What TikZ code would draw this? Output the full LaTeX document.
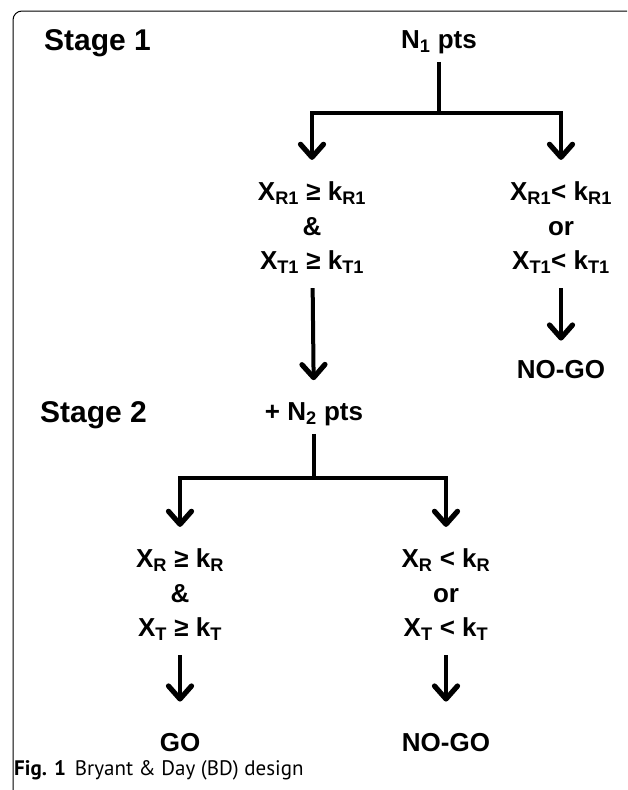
\documentclass[tikz,border=0pt]{standalone}
\usepackage{fontspec}
\setmainfont{Liberation Sans}
\newfontfamily\capfont{PT Sans}
\usetikzlibrary{arrows.meta}
\tikzset{
  txt/.style={font=\fontsize{26}{34.5}\selectfont\bfseries,align=center,inner sep=0pt},
  stage/.style={font=\fontsize{30}{36}\selectfont\bfseries,inner sep=0pt},
  bar/.style={line width=4pt},
  arr/.style={line width=4pt,-{Straight Barb[length=13pt,width=23pt,line width=0pt 1.3,round]}},
  frame/.style={line width=1pt,rounded corners=9pt},
}
\begin{document}
\begin{tikzpicture}[x=1pt,y=-1pt]
        \useasboundingbox(0,0)rectangle(627,790);
        \draw[frame](627,11)--(13,11)--(13,792);

        \node[stage,anchor=west](stage1)at(44,43){Stage 1};
        \node[txt](n1)at(439,42){N\textsubscript{1} pts};
        \coordinate(fork1)at(439,113);
        \node[txt](pass1)at(312,228){X\textsubscript{R1} ≥ k\textsubscript{R1}\\\&\\X\textsubscript{T1} ≥ k\textsubscript{T1}};
        \node[txt](fail1)at(561,228){X\textsubscript{R1}< k\textsubscript{R1}\\or\\X\textsubscript{T1}< k\textsubscript{T1}};
        \node[txt](nogo1)at(561,370){NO-GO};

        \draw[bar,shorten <=8pt](n1)--(fork1);
        \draw[arr,shorten >=22pt](fork1)-|(pass1);
        \draw[arr,shorten >=22pt](fork1)-|(fail1);
        \draw[arr,shorten <=14pt,shorten >=20pt](fail1)--(nogo1);

        \node[stage,anchor=west](stage2)at(40,415){Stage 2};
        \node[txt](plus2)at(314,414){+ N\textsubscript{2} pts};
        \draw[arr,shorten <=14pt,shorten >=22pt](pass1)--(plus2);
        \coordinate(fork2)at(314,478);
        \node[txt](pass2)at(180,595){X\textsubscript{R} ≥ k\textsubscript{R}\\\&\\X\textsubscript{T} ≥ k\textsubscript{T}};
        \node[txt](fail2)at(446,595){X\textsubscript{R} < k\textsubscript{R}\\or\\X\textsubscript{T} < k\textsubscript{T}};
        \node[txt](go)at(180,743){GO};
        \node[txt](nogo2)at(446,743){NO-GO};

        \draw[bar,shorten <=8pt](plus2)--(fork2);
        \draw[arr,shorten >=22pt](fork2)-|(pass2);
        \draw[arr,shorten >=22pt](fork2)-|(fail2);
        \draw[arr,shorten <=14pt,shorten >=32pt](pass2)--(go);
        \draw[arr,shorten <=14pt,shorten >=32pt](fail2)--(nogo2);

        \node[anchor=base west,inner sep=0pt,font=\capfont\fontsize{21}{24}\selectfont](caption)at(14,775){\textbf{Fig. 1}\hspace{9pt}Bryant \& Day (BD) design};
\end{tikzpicture}
\end{document}
